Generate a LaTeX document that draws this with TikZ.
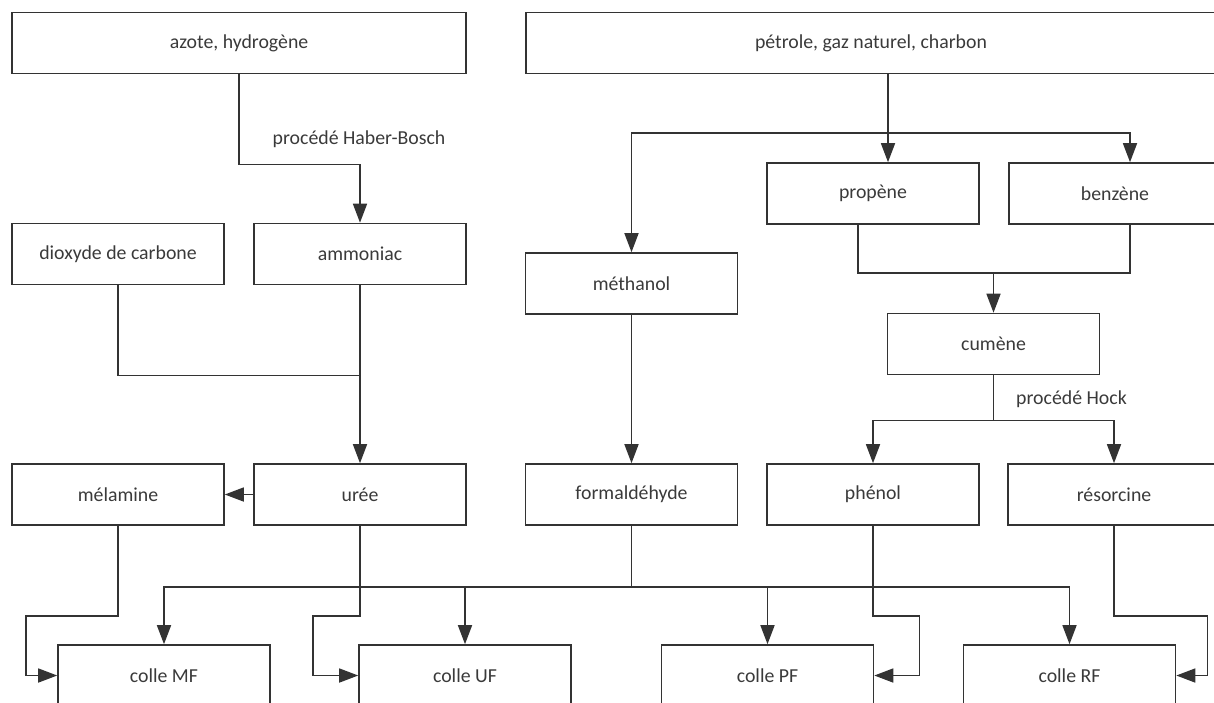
\documentclass[tikz,border=0pt]{standalone}
\usepackage{fontspec}
\setmainfont{Carlito}
\usetikzlibrary{arrows.meta}
\definecolor{ligne}{HTML}{333333}
\definecolor{texte}{HTML}{3A3A3A}
\begin{document}
\begin{tikzpicture}[x=1pt,y=-1pt,
  boite/.style={draw=ligne,line width=1.6pt,minimum width=212pt,minimum height=61pt,
    inner sep=0pt,text=texte,font=\fontsize{19.8}{22}\selectfont},
  etiq/.style={text=texte,font=\fontsize{19.8}{22}\selectfont},
  trait/.style={draw=ligne,line width=1.6pt},
  fleche/.style={trait,-{Triangle[length=19pt,width=14pt]}}]
  \useasboundingbox (0,0) rectangle (1214,702);
  \clip (0,0) rectangle (1214,702);
  % matieres premieres
  \node[boite,minimum width=454pt] (azote) at (239,43) {azote, hydrogène};
  \node[boite,minimum width=690pt] (petrole) at (871,43) {pétrole, gaz naturel, charbon};
  % intermediaires
  \node[boite] (propene) at (873,193.5) {propène};
  \node[boite] (benzene) at (1115,193.5) {benzène};
  \node[boite] (dioxyde) at (118,254) {dioxyde de carbone};
  \node[boite] (ammoniac) at (360,254) {ammoniac};
  \node[boite] (methanol) at (631.5,283.5) {méthanol};
  \node[boite] (cumene) at (993.5,344) {cumène};
  \node[boite] (melamine) at (118,494.5) {mélamine};
  \node[boite] (uree) at (360,494.5) {urée};
  \node[boite] (formal) at (631.5,494.5) {formaldéhyde};
  \node[boite] (phenol) at (873,494.5) {phénol};
  \node[boite] (resorcine) at (1114,494.5) {résorcine};
  % colles
  \node[boite] (mf) at (164,675.5) {colle MF};
  \node[boite] (uf) at (465,675.5) {colle UF};
  \node[boite] (pf) at (767.5,675.5) {colle PF};
  \node[boite] (rf) at (1069.5,675.5) {colle RF};
  % procedes
  \node[etiq] (hb) at (359,139) {procédé Haber-Bosch};
  \node[etiq] (hock) at (1071.5,399) {procédé Hock};

  \draw[fleche] (azote.south) -- ++(0,90) -| (ammoniac.north);
  \draw[fleche] ([xshift=17]petrole.south) -- ([xshift=15]propene.north);
  \coordinate (bus1) at ([xshift=17]petrole.south |- 0,133);
  \draw[fleche] (bus1) -| (methanol.north);
  \draw[fleche] (bus1) -| ([xshift=15]benzene.north);
  \draw[trait] ([xshift=-15]propene.south) -- ++(0,48) -| ([xshift=15]benzene.south);
  \coordinate (jonc) at (cumene.north |- 0,272);
  \draw[fleche] (jonc) -- (cumene.north);
  \draw[trait] (cumene.south) -- ++(0,45) coordinate (bus3);
  \draw[fleche] (bus3) -| (phenol.north);
  \draw[fleche] (bus3) -| (resorcine.north);
  \draw[fleche] (methanol) -- (formal);
  \draw[trait] (dioxyde.south) -- ++(0,90) -| (ammoniac.south);
  \draw[fleche] (ammoniac) -- (uree);
  \draw[fleche] (uree) -- (melamine);
  \draw[trait] (formal.south) -- ++(0,61) coordinate (bus2);
  \foreach \c in {mf,uf,pf,rf}
    \draw[fleche] (bus2) -| (\c.north);
  \draw[fleche] (melamine.south) -- ++(0,90) -| ([xshift=-31]mf.west) -- (mf.west);
  \draw[fleche] (uree.south) -- ++(0,90) -| ([xshift=-45]uf.west) -- (uf.west);
  \draw[fleche] (phenol.south) -- ++(0,90) -| ([xshift=45]pf.east) -- (pf.east);
  \draw[fleche] (resorcine.south) -- ++(0,90) -| ([xshift=31]rf.east) -- (rf.east);
\end{tikzpicture}
\end{document}
